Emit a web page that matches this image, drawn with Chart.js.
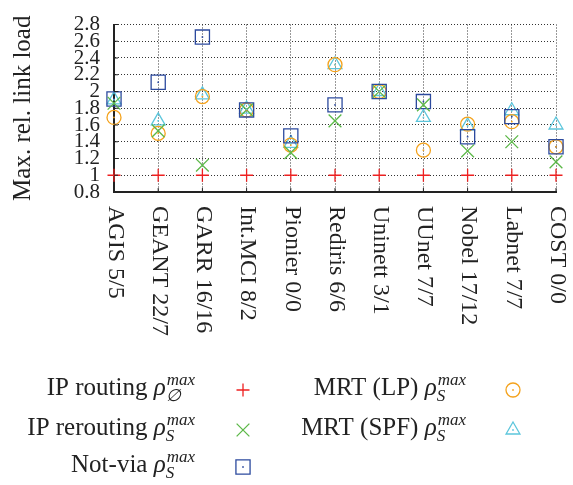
<!DOCTYPE html>
<html><head><meta charset="utf-8">
<script src="https://cdn.jsdelivr.net/npm/chart.js@4/dist/chart.umd.min.js"></script>
<style>html,body{margin:0;padding:0;background:#fff}#wrap{width:573px;height:485px;position:relative}</style>
</head><body><div id="wrap"><canvas id="c" width="573" height="485"></canvas></div>
<script>
const categories = ['AGIS 5/5','GEANT 22/7','GARR 16/16','Int.MCI 8/2','Pionier 0/0','Rediris 6/6','Uninett 3/1','UUnet 7/7','Nobel 17/12','Labnet 7/7','COST 0/0'];
const yTickValues = [0.8,1,1.2,1.4,1.6,1.8,2,2.2,2.4,2.6,2.8];
const yTickLabels = ['0.8','1','1.2','1.4','1.6','1.8','2','2.2','2.4','2.6','2.8'];
const ipRouting   = [1,1,1,1,1,1,1,1,1,1,1];
const ipRerouting = [1.86,1.53,1.12,1.78,1.27,1.65,2.0,1.84,1.29,1.40,1.16];
const notVia      = [1.91,2.11,2.65,1.78,1.47,1.84,2.0,1.88,1.46,1.70,1.34];
const mrtLP       = [1.69,1.50,1.94,1.78,1.36,2.32,2.0,1.30,1.61,1.64,1.34];
const mrtSPF      = [1.90,1.65,1.96,1.79,1.38,2.32,2.0,1.69,1.59,1.77,1.60];
const seriesNames = ['IP routing','IP rerouting','Not-via','MRT (LP)','MRT (SPF)'];
const seriesSubs  = ['\u2205','S','S','S','S'];

const SERIF = '"Liberation Serif","Times New Roman",serif';
const TXT = '#222';

function ds(label, data, color, style, radius, dotted){
  return {label, data, showLine:false, borderColor:color, backgroundColor:'rgba(0,0,0,0)',
    pointStyle:style, pointRadius:radius, pointHoverRadius:radius, pointBorderWidth:1.3,
    pointBackgroundColor:'rgba(0,0,0,0)', pointBorderColor:color, centerDot:dotted};
}
const datasets = [
  ds(seriesNames[0], ipRouting,   '#ee2020', 'cross',    6.5, false),
  ds(seriesNames[1], ipRerouting, '#5cb848', 'crossRot', 9,   false),
  ds(seriesNames[2], notVia,      '#2c4a9e', 'rect',     10,  true),
  ds(seriesNames[3], mrtLP,       '#f4a21c', 'circle',   7,   true),
  ds(seriesNames[4], mrtSPF,      '#5cc6dc', 'triangle', 8,   true)
];

function dot(ctx,x,y,color){ctx.fillStyle=color;ctx.fillRect(x-0.8,y-0.8,1.6,1.6);}

const extras = {
  id:'extras',
  afterDatasetsDraw(chart){
    const ctx = chart.ctx;
    chart.data.datasets.forEach((d,i)=>{
      if(!d.centerDot) return;
      chart.getDatasetMeta(i).data.forEach(pt=>dot(ctx,pt.x,pt.y,d.borderColor));
    });
  },
  afterDraw(chart){
    const ctx = chart.ctx, xs = chart.scales.x, ys = chart.scales.y, a = chart.chartArea;
    ctx.save();
    // inward tick marks
    ctx.strokeStyle = '#222'; ctx.lineWidth = 1;
    ctx.beginPath();
    categories.forEach((c,i)=>{const x = xs.getPixelForTick(i); ctx.moveTo(x,a.bottom); ctx.lineTo(x,a.bottom-4);});
    yTickValues.forEach(v=>{const y = ys.getPixelForValue(v); ctx.moveTo(a.left,y); ctx.lineTo(a.left+4,y);});
    ctx.stroke();
    // rotated category labels
    ctx.fillStyle = TXT; ctx.font = '24px '+SERIF;
    ctx.textAlign = 'left'; ctx.textBaseline = 'middle';
    categories.forEach((c,i)=>{
      const x = xs.getPixelForTick(i);
      ctx.save(); ctx.translate(x+1, a.bottom+14); ctx.rotate(Math.PI/2); ctx.fillText(c,0,0); ctx.restore();
    });
    // legend
    const layout = [{col:0,row:0},{col:0,row:1},{col:0,row:2},{col:1,row:0},{col:1,row:1}];
    const textEnd = [195,466], markX = [243,513], baseY = [395,435,472];
    ctx.textBaseline = 'alphabetic';
    chart.data.datasets.forEach((d,i)=>{
      const L = layout[i], end = textEnd[L.col], by = baseY[L.row];
      ctx.font = '25px '+SERIF; const main = d.label+' '; const wMain = ctx.measureText(main).width;
      ctx.font = 'italic 25px '+SERIF; const wRho = ctx.measureText('\u03c1').width;
      ctx.font = 'italic 17px '+SERIF; const wSup = ctx.measureText('max').width;
      const wSub = ctx.measureText(seriesSubs[i]).width;
      const total = wMain + wRho + Math.max(wSup,wSub) + 1;
      let x = end - total;
      ctx.fillStyle = TXT; ctx.textAlign='left';
      ctx.font = '25px '+SERIF; ctx.fillText(main, x, by); x += wMain;
      ctx.font = 'italic 25px '+SERIF; ctx.fillText('\u03c1', x, by); x += wRho + 1;
      ctx.font = 'italic 17px '+SERIF; ctx.fillText('max', x, by-10);
      ctx.fillText(seriesSubs[i], x - 1, by+6);
      // marker
      const my = by - 5, mx = markX[L.col];
      ctx.strokeStyle = d.borderColor; ctx.fillStyle = 'rgba(0,0,0,0)'; ctx.lineWidth = d.pointBorderWidth;
      Chart.helpers.drawPoint(ctx, {pointStyle:d.pointStyle, rotation:0, radius:d.pointRadius, borderWidth:d.pointBorderWidth}, mx, my);
      if(d.centerDot) dot(ctx,mx,my,d.borderColor);
    });
    ctx.restore();
  }
};

new Chart(document.getElementById('c'), {
  type:'line',
  data:{labels:categories, datasets},
  plugins:[extras],
  options:{
    responsive:false, animation:false, devicePixelRatio:1,
    layout:{padding:{top:13, right:17, left:0, bottom:0}},
    plugins:{legend:{display:false}, tooltip:{enabled:false}},
    scales:{
      x:{
        offset:false,
        grid:{color:'#333', lineWidth:1, drawTicks:false},
        border:{display:true, color:'#222', width:2, dash:[1,2]},
        ticks:{display:false},
        afterFit(s){ s.height = 293; }
      },
      y:{
        min:0.8, max:2.8,
        afterBuildTicks(s){ s.ticks = yTickValues.map(v=>({value:v})); },
        grid:{color:'#333', lineWidth:1, drawTicks:false},
        border:{display:true, color:'#222', width:2, dash:[1,2]},
        ticks:{padding:14, color:TXT, autoSkip:false, font:{family:SERIF, size:21, lineHeight:1},
          callback:(v,i)=>yTickLabels[i]},
        title:{display:true, text:'Max. rel. link load', color:TXT,
          font:{family:SERIF, size:25, lineHeight:1}, padding:{top:11,bottom:0}},
        afterFit(s){ s.width = 114; }
      }
    }
  }
});
</script></body></html>
